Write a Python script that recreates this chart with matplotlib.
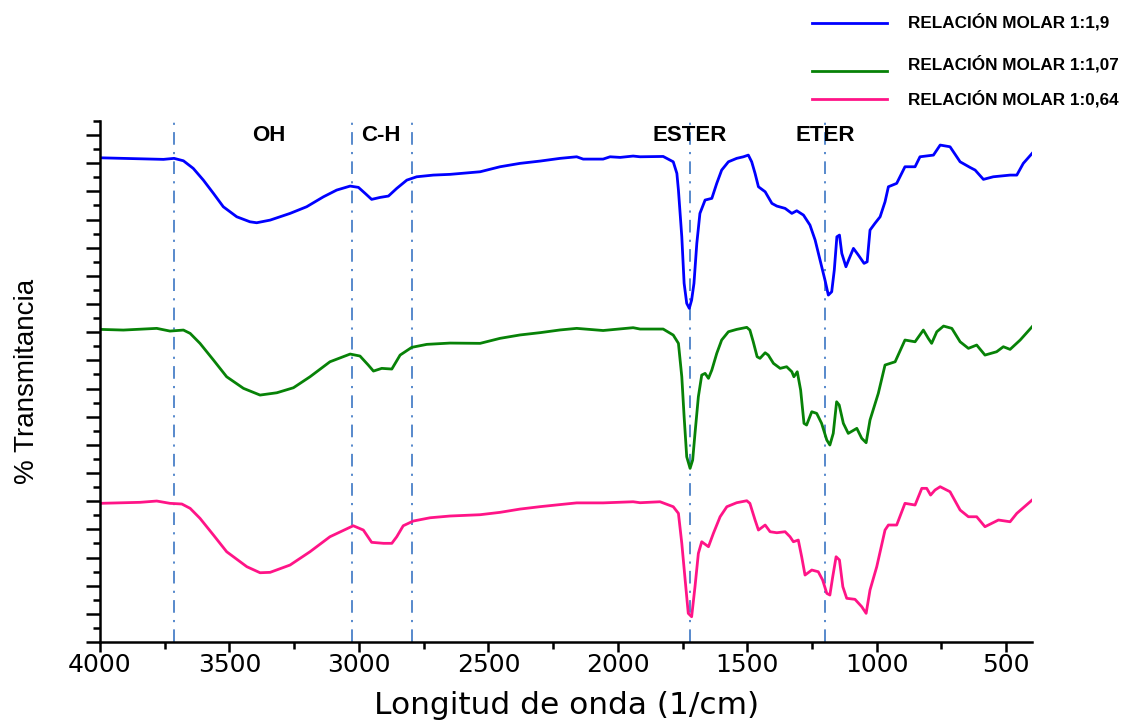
import matplotlib
matplotlib.use('Agg')
import matplotlib.pyplot as plt
from matplotlib.lines import Line2D
from matplotlib.ticker import MultipleLocator, NullFormatter

# espectros FTIR (numero de onda en 1/cm, transmitancia en unidades arbitrarias)
wn_a = [4000, 3755, 3714, 3678, 3640, 3601, 3562, 3524, 3472, 3421, 3395, 3343, 3266, 3202, 3137, 3086,
        3034, 3002, 2976, 2951, 2918, 2886, 2854, 2815, 2777, 2713, 2648, 2532, 2455, 2378, 2300, 2223,
        2159, 2134, 2057, 2030, 1991, 1941, 1914, 1825, 1786, 1772, 1766, 1753, 1744, 1734, 1724, 1715,
        1706, 1695, 1683, 1663, 1637, 1618, 1599, 1573, 1541, 1515, 1496, 1483, 1470, 1457, 1431, 1405,
        1386, 1354, 1328, 1309, 1283, 1258, 1238, 1219, 1200, 1187, 1174, 1164, 1154, 1144, 1135, 1119,
        1106, 1090, 1071, 1049, 1037, 1026, 1007, 987, 968, 955, 923, 891, 852, 833, 781, 755, 717, 678,
        640, 620, 588, 550, 485, 459, 434, 400]
t_a = [85.96, 85.68, 85.86, 85.43, 84.08, 82.0, 79.64, 77.27, 75.49, 74.60, 74.43, 74.90, 76.09, 77.27,
       79.04, 80.23, 80.94, 80.71, 79.64, 78.58, 78.93, 79.17, 80.53, 82.0, 82.59, 82.89, 83.02, 83.48,
       84.37, 84.97, 85.38, 85.86, 86.14, 85.73, 85.73, 86.14, 86.03, 86.27, 86.14, 86.2, 85.25, 83.19,
       80.23, 71.94, 63.67, 60.12, 59.23, 60.71, 63.67, 70.77, 76.09, 78.46, 78.76, 81.42, 83.78, 85.25,
       85.86, 86.14, 86.44, 85.25, 83.19, 80.82, 79.93, 77.87, 77.39, 76.98, 76.09, 76.56, 75.79, 74.02,
       71.36, 67.81, 64.26, 61.59, 62.18, 66.03, 71.94, 72.24, 68.99, 66.62, 68.11, 69.88, 68.69, 67.22,
       67.50, 73.13, 74.32, 75.49, 78.15, 80.82, 81.42, 84.37, 84.37, 86.14, 86.44, 88.22, 87.92, 85.25,
       84.26, 83.78, 82.13, 82.59, 82.89, 82.89, 84.97, 86.74]

wn_b = [4000, 3910, 3781, 3730, 3678, 3652, 3614, 3562, 3511, 3446, 3382, 3317, 3253, 3189, 3112, 3034,
        2996, 2964, 2944, 2912, 2873, 2841, 2796, 2738, 2648, 2532, 2455, 2378, 2300, 2223, 2159, 2057,
        1941, 1914, 1825, 1786, 1766, 1753, 1744, 1734, 1721, 1711, 1702, 1689, 1676, 1663, 1650, 1637,
        1618, 1599, 1573, 1541, 1502, 1490, 1477, 1462, 1451, 1431, 1419, 1399, 1373, 1348, 1328, 1320,
        1307, 1294, 1281, 1271, 1251, 1232, 1213, 1193, 1181, 1168, 1155, 1145, 1129, 1110, 1077, 1058,
        1041, 1026, 994, 968, 929, 891, 852, 820, 801, 788, 768, 742, 710, 678, 646, 614, 582, 537, 511,
        485, 446, 400]
t_b = [55.50, 55.38, 55.68, 55.20, 55.38, 54.79, 53.02, 50.06, 47.09, 45.03, 43.84, 44.25, 45.14, 47.09,
       49.75, 51.12, 50.77, 49.17, 48.10, 48.58, 48.46, 50.94, 52.31, 52.84, 53.07, 53.02, 53.91, 54.51,
       54.92, 55.40, 55.68, 55.30, 55.80, 55.56, 55.56, 54.49, 53.02, 47.09, 39.99, 32.89, 30.83, 32.31,
       37.04, 43.54, 47.39, 47.69, 46.81, 48.28, 51.24, 53.61, 55.08, 55.50, 55.86, 55.38, 53.30, 50.64,
       50.36, 51.35, 50.94, 49.47, 48.58, 48.87, 47.98, 47.09, 47.98, 44.73, 38.82, 38.52, 40.88, 40.59,
       38.82, 35.86, 34.97, 37.04, 42.65, 42.07, 38.82, 37.04, 37.93, 36.16, 35.38, 39.41, 44.14, 49.17,
       49.75, 53.61, 53.30, 55.38, 53.91, 53.02, 55.08, 56.09, 55.68, 53.30, 52.13, 52.72, 50.94, 51.53,
       52.42, 51.95, 53.61, 55.97]

wn_c = [4000, 3845, 3781, 3730, 3684, 3652, 3614, 3562, 3511, 3433, 3382, 3343, 3266, 3189, 3112, 3022,
        2983, 2951, 2905, 2873, 2854, 2829, 2790, 2725, 2648, 2532, 2455, 2378, 2300, 2223, 2159, 2057,
        1941, 1914, 1837, 1786, 1766, 1753, 1740, 1728, 1715, 1702, 1689, 1676, 1650, 1631, 1605, 1579,
        1541, 1502, 1490, 1470, 1457, 1431, 1412, 1386, 1354, 1335, 1322, 1303, 1290, 1277, 1251, 1226,
        1209, 1193, 1181, 1170, 1157, 1144, 1131, 1116, 1084, 1058, 1041, 1026, 1000, 968, 955, 923, 891,
        852, 826, 807, 792, 775, 755, 717, 678, 646, 614, 582, 530, 485, 459, 400]
t_c = [24.62, 24.80, 25.03, 24.62, 24.50, 23.73, 21.96, 18.99, 16.03, 13.37, 12.30, 12.37, 13.67, 16.03,
       18.69, 20.64, 19.88, 17.70, 17.52, 17.52, 18.69, 20.64, 21.48, 22.06, 22.37, 22.60, 23.02, 23.60,
       24.03, 24.40, 24.70, 24.70, 24.90, 24.73, 24.90, 24.02, 22.84, 17.52, 11.01, 5.09, 4.49, 9.82,
       15.74, 17.80, 16.92, 19.29, 22.24, 24.02, 24.73, 25.08, 24.62, 21.66, 19.88, 20.77, 19.58, 19.40,
       19.58, 18.69, 17.80, 18.10, 15.14, 11.89, 12.78, 12.48, 11.01, 8.64, 8.34, 11.59, 15.14, 14.56,
       9.82, 7.76, 7.58, 6.27, 5.09, 9.23, 13.37, 19.88, 20.77, 20.77, 24.62, 24.32, 27.28, 27.28, 26.09,
       26.98, 27.57, 26.68, 23.43, 22.24, 22.24, 20.47, 21.66, 21.35, 22.84, 25.20]

labels = ['RELACIÓN MOLAR 1:1,9', 'RELACIÓN MOLAR 1:1,07', 'RELACIÓN MOLAR 1:0,64']
colors = ['#0000ff', '#078207', '#ff1487']

# bandas marcadas
band_lines = [3715, 3025, 2795, 1722, 1198]
band_names = ['OH', 'C-H', 'ESTER', 'ETER']
band_pos = [3347, 2917, 1724, 1200]

fig = plt.figure(figsize=(11.46, 7.23), dpi=100)
ax = fig.add_axes([0.0873, 0.1120, 0.8133, 0.7207])

for wn, t, c in zip([wn_a, wn_b, wn_c], [t_a, t_b, t_c], colors):
    ax.plot(wn, t, color=c, lw=2.0)

for x in band_lines:
    ax.axvline(x, color='#4a80c8', lw=1.3, ls=(0, (7, 4, 1.2, 4)), zorder=0)

for name, x in zip(band_names, band_pos):
    ax.text(x, 90.0, name, ha='center', va='center', fontsize=16, fontweight='bold',
            family='Liberation Sans', clip_on=False)

ax.set_xlim(4000, 400)
ax.set_ylim(0, 92.5)
ax.xaxis.set_major_locator(MultipleLocator(500))
ax.xaxis.set_minor_locator(MultipleLocator(250))
ax.yaxis.set_major_locator(MultipleLocator(5))
ax.yaxis.set_minor_locator(MultipleLocator(2.5))
ax.yaxis.set_major_formatter(NullFormatter())

for s in ['top', 'right']:
    ax.spines[s].set_visible(False)
for s in ['left', 'bottom']:
    ax.spines[s].set_linewidth(1.8)

ax.tick_params(axis='y', which='major', direction='out', length=10, width=1.8)
ax.tick_params(axis='y', which='minor', direction='out', length=5, width=1.8)
ax.tick_params(axis='x', which='major', direction='out', length=7, width=1.8)
ax.tick_params(axis='x', which='minor', direction='out', length=5, width=1.8)
ax.tick_params(axis='x', labelsize=18, pad=1)
for lab in ax.get_xticklabels():
    lab.set_family('DejaVu Sans')

ax.set_xlabel('Longitud de onda (1/cm)', fontsize=22.5, family='DejaVu Sans', labelpad=10)
ax.set_ylabel('% Transmitancia', fontsize=20, family='Liberation Sans', labelpad=30)

# leyenda arriba a la derecha
leg_y_line = [0.9686, 0.9022, 0.8631]
leg_y_text = [0.9700, 0.9115, 0.8635]
for c, lab, yl, yt in zip(colors, labels, leg_y_line, leg_y_text):
    fig.add_artist(Line2D([0.7086, 0.7740], [yl, yl], color=c, lw=2.0))
    fig.text(0.7923, yt, lab, ha='left', va='center', fontsize=12.3, fontweight='bold',
             family='Liberation Sans')

fig.savefig('out.png', dpi=100)
